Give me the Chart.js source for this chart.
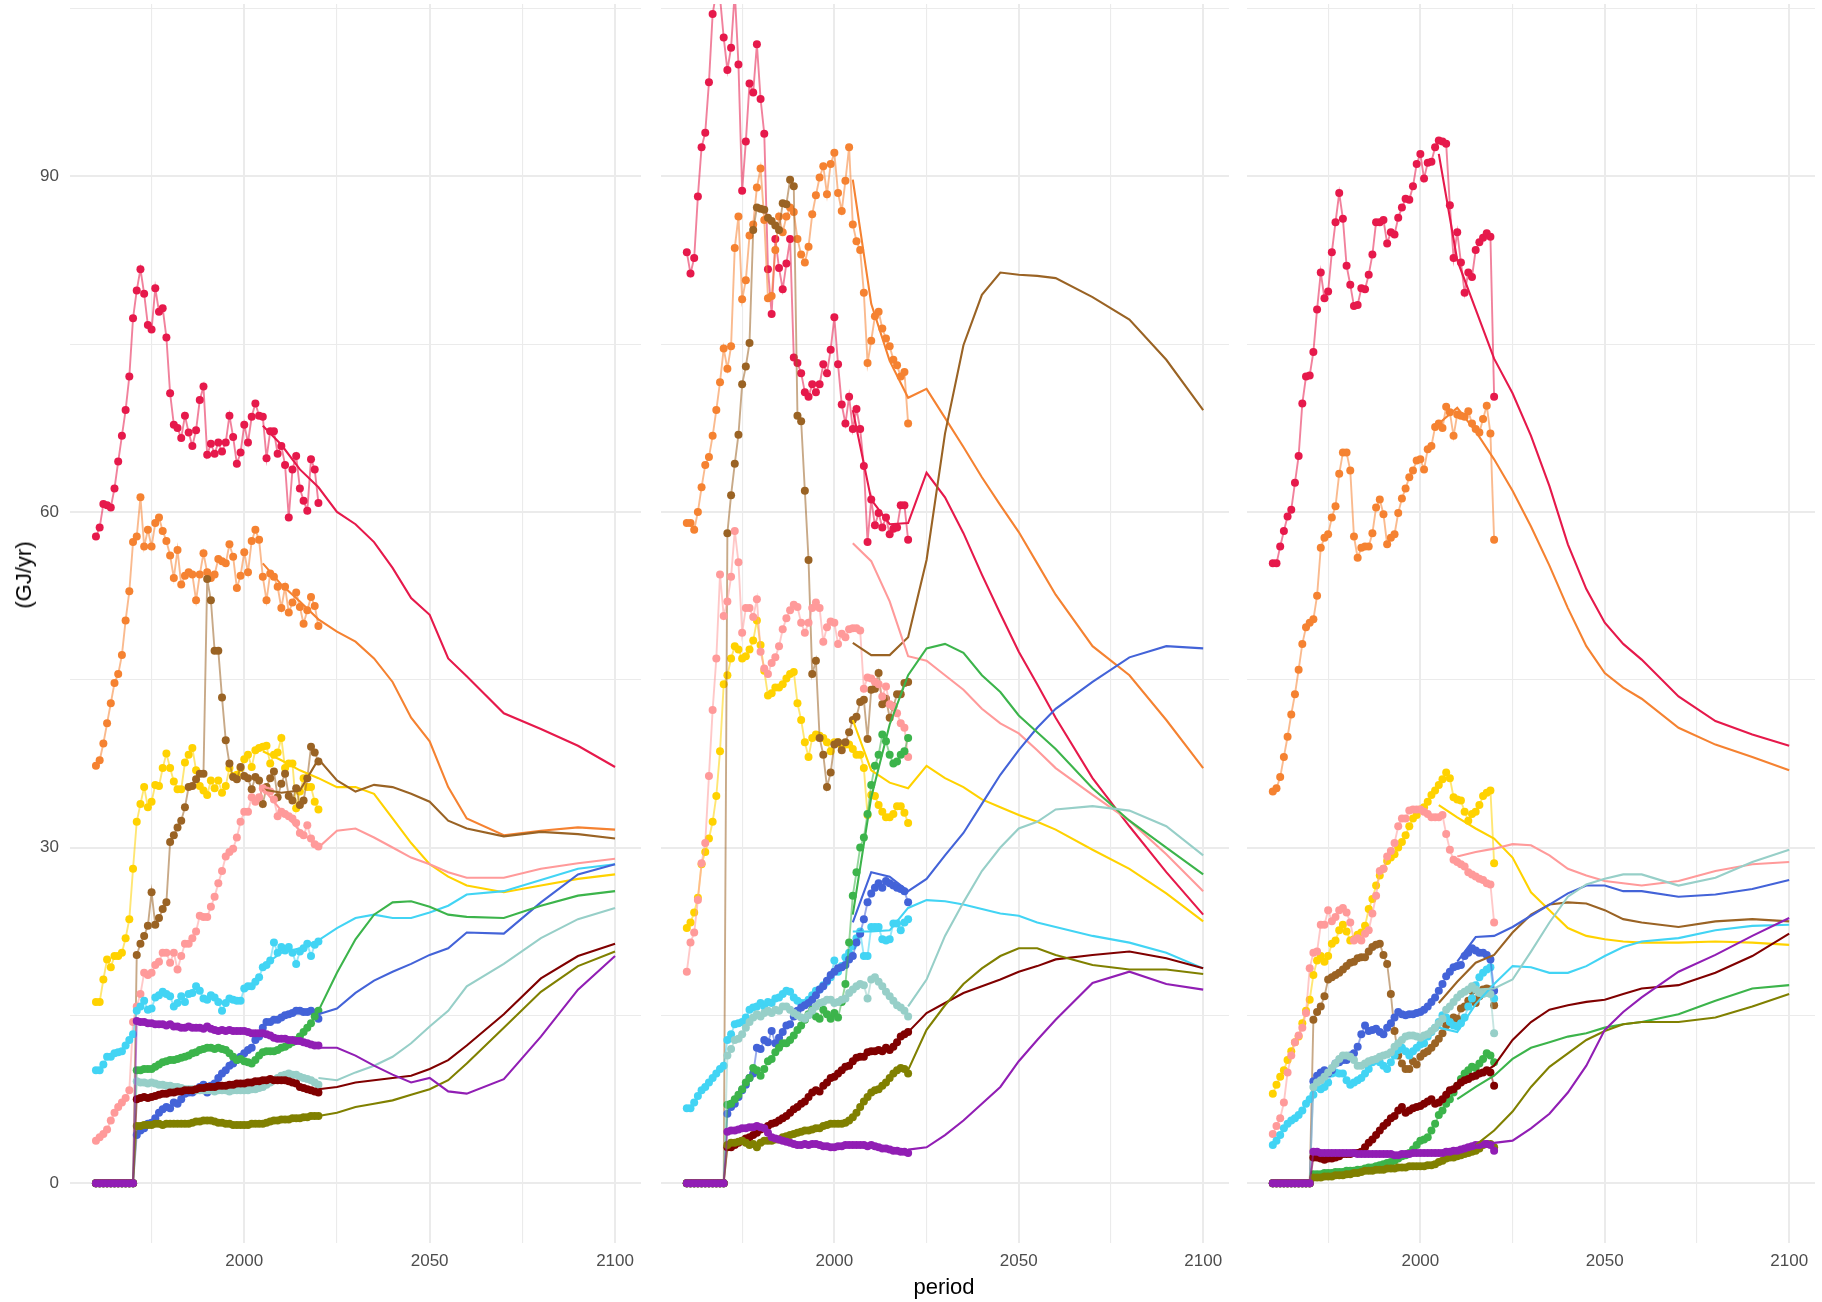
<!DOCTYPE html>
<html>
<head>
<meta charset="utf-8">
<script src="https://cdn.jsdelivr.net/npm/chart.js@4.4.1/dist/chart.umd.min.js"></script>
<style>
  body { margin: 0; background: #fff; }
  #wrap { position: relative; width: 1822px; height: 1302px; overflow: hidden; font-family: "Liberation Sans", Arial, sans-serif; }
  canvas { position: absolute; top: 0; }
  .title { position: absolute; font-size: 22px; color: #000; white-space: nowrap; line-height: 1; }
  #ytitle { left: 24px; top: 575px; transform: translate(-50%, -50%) rotate(-90deg); }
  #xtitle { left: 944px; top: 1287px; transform: translate(-50%, -50%); }
</style>
</head>
<body>
<div id="wrap">
  <canvas id="panel1" width="645" height="1302" style="left:0"></canvas>
  <canvas id="panel2" width="576" height="1302" style="left:657px"></canvas>
  <canvas id="panel3" width="576" height="1302" style="left:1243px"></canvas>
  <div class="title" id="ytitle">(GJ/yr)</div>
  <div class="title" id="xtitle">period</div>
</div>
<script>
// historic years and scenario years
const years = [1960, 1961, 1962, 1963, 1964, 1965, 1966, 1967, 1968, 1969,
  1970, 1971, 1972, 1973, 1974, 1975, 1976, 1977, 1978, 1979,
  1980, 1981, 1982, 1983, 1984, 1985, 1986, 1987, 1988, 1989,
  1990, 1991, 1992, 1993, 1994, 1995, 1996, 1997, 1998, 1999,
  2000, 2001, 2002, 2003, 2004, 2005, 2006, 2007, 2008, 2009,
  2010, 2011, 2012, 2013, 2014, 2015, 2016, 2017, 2018, 2019,
  2020];
const projYears = [2005, 2010, 2015, 2020, 2025, 2030, 2035, 2040, 2045, 2050, 2055, 2060, 2070, 2080, 2090, 2100];
const xTicks = [1975, 2000, 2025, 2050, 2075, 2100];
const yTicks = [0, 15, 30, 45, 60, 75, 90, 105];

const seriesOrder = ['red', 'orange', 'yellow', 'brown', 'pink', 'cyan', 'blue', 'green', 'teal', 'maroon', 'olive', 'purple'];
const seriesColors = {
  red: '#e6194b', orange: '#f58231', yellow: '#ffd200', brown: '#9a6324',
  pink: '#ff9a9a', cyan: '#42d4f4', blue: '#4363d8', green: '#3cb44b',
  teal: '#97cfc8', maroon: '#800000', olive: '#808000', purple: '#911eb4'
};

// ---------- panel 1 ----------
const p1RedHist = [57.8, 58.6, 60.7, 60.6, 60.4, 62.1, 64.5, 66.8, 69.1, 72.1,
  77.3, 79.8, 81.7, 79.5, 76.7, 76.3, 80.0, 77.9, 78.2, 75.6,
  70.6, 67.8, 67.5, 66.6, 68.6, 67.1, 65.9, 67.3, 70.0, 71.2,
  65.1, 66.1, 65.2, 66.2, 65.4, 66.2, 68.6, 66.7, 64.3, 65.3,
  67.8, 66.2, 68.5, 69.7, 68.6, 68.5, 64.8, 67.2, 67.2, 65.2,
  65.9, 64.2, 59.5, 63.8, 65.0, 62.1, 61.0, 60.1, 64.7, 63.8,
  60.8];
const p1RedProj = [67.7, 66.0, 63.8, 62.2, 60.0, 58.9, 57.3, 55.0, 52.3, 50.8, 46.9, 45.3, 42.0, 40.6, 39.1, 37.2];
const p1OrangeHist = [37.3, 37.8, 39.3, 41.1, 42.9, 44.7, 45.5, 47.2, 50.3, 52.9,
  57.3, 57.8, 61.3, 56.9, 58.4, 56.9, 59.0, 59.5, 58.3, 57.4,
  56.1, 54.1, 56.6, 53.5, 54.3, 54.6, 54.4, 52.1, 54.4, 56.3,
  54.6, 54.1, 54.4, 55.8, 55.6, 55.4, 57.1, 56.0, 53.2, 54.3,
  56.4, 54.6, 57.4, 58.4, 57.5, 54.2, 52.1, 54.5, 54.2, 53.3,
  51.4, 53.3, 51.0, 51.9, 52.8, 51.5, 50.0, 51.2, 52.4, 51.6,
  49.8];
const p1OrangeProj = [55.4, 53.5, 52.0, 50.4, 49.3, 48.4, 46.9, 44.8, 41.6, 39.5, 35.4, 32.6, 31.1, 31.5, 31.8, 31.6];
const p1YellowHist = [16.2, 16.2, 18.2, 20.0, 19.3, 20.3, 20.3, 20.6, 21.9, 23.6,
  28.1, 32.3, 33.9, 35.4, 33.6, 34.1, 35.6, 35.5, 37.1, 38.4,
  37.1, 35.9, 35.2, 35.2, 37.6, 38.3, 38.9, 36.9, 35.5, 35.1,
  34.7, 36.0, 35.3, 36.0, 34.9, 35.5, 37.1, 36.4, 36.5, 37.1,
  37.9, 38.3, 37.2, 38.7, 38.9, 39.0, 39.1, 37.5, 38.3, 38.5,
  39.8, 37.1, 37.5, 37.5, 33.5, 35.0, 36.2, 35.4, 35.4, 34.1,
  33.4];
const p1YellowProj = [38.6, 37.8, 36.9, 36.2, 35.4, 35.4, 34.8, 32.6, 30.4, 28.5, 27.4, 26.6, 26.0, 26.6, 27.2, 27.6];
const p1BrownHist = [0, 0, 0, 0, 0, 0, 0, 0, 0, 0,
  0, 20.4, 21.4, 22.1, 23.0, 26.0, 23.1, 23.7, 24.5, 25.1,
  30.5, 31.1, 31.8, 32.4, 33.6, 35.4, 35.5, 36.1, 36.6, 36.6,
  54.0, 52.1, 47.6, 47.6, 43.4, 39.6, 37.5, 36.3, 36.1, 37.2,
  36.4, 36.2, 35.2, 36.3, 36.0, 33.9, 35.4, 36.2, 36.8, 34.5,
  35.7, 36.6, 34.6, 34.2, 35.3, 33.8, 34.2, 36.2, 39.0, 38.5,
  37.7];
const p1BrownProj = [35.2, 34.9, 35.1, 37.9, 36.0, 35.0, 35.6, 35.4, 34.8, 34.1, 32.4, 31.7, 31.0, 31.4, 31.2, 30.8];
const p1PinkHist = [3.8, 4.1, 4.4, 4.8, 5.6, 6.3, 6.8, 7.2, 7.6, 8.3,
  14.4, 15.8, 16.9, 18.8, 18.6, 18.8, 19.5, 19.8, 20.6, 20.6,
  19.7, 20.6, 19.1, 20.3, 21.4, 21.4, 21.9, 22.5, 23.9, 23.8,
  23.8, 24.7, 25.6, 26.8, 27.9, 29.2, 29.6, 29.9, 30.9, 32.3,
  33.2, 33.2, 34.5, 34.1, 34.5, 35.3, 35.1, 35.0, 34.3, 32.8,
  33.2, 33.0, 32.8, 32.6, 32.2, 31.3, 31.1, 32.0, 30.8, 30.3,
  30.1];
const p1PinkProj = [35.3, 33.3, 31.5, 30.0, 31.5, 31.7, 30.9, 30.0, 29.1, 28.5, 27.8, 27.3, 27.3, 28.1, 28.6, 29.0];
const p1CyanHist = [10.1, 10.1, 10.6, 11.3, 11.3, 11.6, 11.7, 11.8, 12.3, 12.8,
  13.3, 15.4, 15.8, 16.3, 15.5, 15.6, 16.6, 16.8, 17.1, 16.9,
  16.7, 15.8, 16.1, 16.7, 16.2, 16.9, 17.0, 17.6, 17.2, 16.5,
  16.4, 16.8, 16.6, 16.2, 15.4, 16.1, 16.5, 16.4, 16.3, 16.3,
  17.4, 17.6, 17.6, 18.0, 18.4, 19.3, 19.5, 19.9, 21.5, 20.6,
  21.1, 20.8, 21.1, 20.6, 19.6, 20.7, 21.0, 21.4, 20.3, 21.3,
  21.6];
const p1CyanProj = [19.4, 20.6, 21.0, 21.7, 22.8, 23.7, 24.0, 23.7, 23.7, 24.2, 24.8, 25.8, 26.1, 27.1, 28.1, 28.5];
const p1BlueHist = [0, 0, 0, 0, 0, 0, 0, 0, 0, 0,
  0, 4.3, 4.7, 4.9, 5.3, 5.4, 5.8, 6.3, 6.6, 6.8,
  6.7, 7.2, 7.1, 7.5, 8.0, 8.1, 8.1, 8.3, 8.6, 8.8,
  8.1, 8.7, 8.9, 9.4, 9.8, 10.1, 10.5, 10.7, 11.0, 11.3,
  11.6, 11.9, 12.1, 12.8, 13.1, 13.9, 14.4, 14.4, 14.6, 14.6,
  14.8, 15.0, 15.1, 15.2, 15.4, 15.4, 15.3, 15.3, 15.4, 15.2,
  14.7];
const p1BlueProj = [null, null, null, 15.1, 15.6, 17.0, 18.1, 18.9, 19.6, 20.4, 21.0, 22.4, 22.3, 25.1, 27.6, 28.5];
const p1GreenHist = [0, 0, 0, 0, 0, 0, 0, 0, 0, 0,
  0, 10.1, 10.1, 10.2, 10.2, 10.2, 10.4, 10.6, 10.8, 10.9,
  11.0, 11.0, 11.1, 11.2, 11.3, 11.4, 11.6, 11.7, 11.9, 12.0,
  12.1, 12.1, 12.0, 12.1, 12.0, 11.9, 11.6, 11.3, 11.0, 11.1,
  10.9, 10.8, 10.7, 11.0, 11.4, 11.7, 11.8, 11.8, 11.8, 11.9,
  12.1, 12.2, 12.4, 12.6, 12.8, 13.1, 13.5, 13.9, 14.3, 14.9,
  15.4];
const p1GreenProj = [null, null, null, 15.4, 18.8, 21.8, 24.0, 25.1, 25.2, 24.7, 24.0, 23.8, 23.7, 24.8, 25.7, 26.1];
const p1TealHist = [0, 0, 0, 0, 0, 0, 0, 0, 0, 0,
  0, 9.1, 9.0, 9.0, 8.9, 9.0, 8.9, 8.8, 8.8, 8.7,
  8.7, 8.6, 8.6, 8.5, 8.4, 8.4, 8.4, 8.3, 8.3, 8.3,
  8.3, 8.3, 8.2, 8.3, 8.3, 8.3, 8.2, 8.3, 8.3, 8.3,
  8.3, 8.3, 8.4, 8.4, 8.5, 8.6, 8.8, 9.0, 9.2, 9.4,
  9.6, 9.7, 9.8, 9.7, 9.7, 9.5, 9.4, 9.3, 9.2, 9.0,
  8.8];
const p1TealProj = [null, null, null, 9.4, 9.2, 9.9, 10.5, 11.3, 12.5, 14.0, 15.4, 17.6, 19.6, 21.9, 23.6, 24.6];
const p1MaroonHist = [0, 0, 0, 0, 0, 0, 0, 0, 0, 0,
  0, 7.5, 7.6, 7.7, 7.6, 7.7, 7.8, 7.9, 8.0, 8.0,
  8.1, 8.1, 8.2, 8.2, 8.3, 8.3, 8.3, 8.4, 8.5, 8.5,
  8.6, 8.6, 8.6, 8.7, 8.7, 8.7, 8.8, 8.8, 8.9, 8.9,
  8.9, 9.0, 9.0, 9.1, 9.1, 9.2, 9.2, 9.3, 9.2, 9.2,
  9.2, 9.2, 9.1, 9.0, 8.9, 8.6, 8.5, 8.4, 8.3, 8.2,
  8.1];
const p1MaroonProj = [null, null, null, 8.4, 8.6, 9.0, 9.2, 9.4, 9.6, 10.2, 11.0, 12.3, 15.1, 18.3, 20.3, 21.4];
const p1OliveHist = [0, 0, 0, 0, 0, 0, 0, 0, 0, 0,
  0, 5.1, 5.1, 5.2, 5.2, 5.2, 5.3, 5.3, 5.2, 5.3,
  5.3, 5.3, 5.3, 5.3, 5.3, 5.3, 5.4, 5.5, 5.5, 5.6,
  5.6, 5.6, 5.5, 5.4, 5.4, 5.3, 5.3, 5.2, 5.2, 5.2,
  5.2, 5.2, 5.3, 5.3, 5.3, 5.3, 5.4, 5.5, 5.6, 5.6,
  5.7, 5.7, 5.7, 5.8, 5.8, 5.8, 5.9, 5.9, 6.0, 6.0,
  6.0];
const p1OliveProj = [null, null, null, 6.0, 6.3, 6.8, 7.1, 7.4, 7.9, 8.4, 9.2, 10.7, 13.9, 17.1, 19.4, 20.7];
const p1PurpleHist = [0, 0, 0, 0, 0, 0, 0, 0, 0, 0,
  0, 14.5, 14.4, 14.4, 14.3, 14.3, 14.2, 14.2, 14.2, 14.1,
  14.2, 14.0, 14.0, 13.9, 13.9, 14.0, 13.9, 13.9, 13.9, 13.8,
  14.0, 13.8, 13.7, 13.6, 13.7, 13.6, 13.7, 13.6, 13.6, 13.6,
  13.6, 13.5, 13.4, 13.4, 13.4, 13.4, 13.3, 13.2, 13.0, 12.9,
  12.9, 12.9, 12.8, 12.8, 12.7, 12.7, 12.6, 12.5, 12.4, 12.3,
  12.3];
const p1PurpleProj = [null, null, null, 12.1, 12.1, 11.4, 10.5, 9.7, 9.0, 9.4, 8.2, 8.0, 9.3, 13.1, 17.3, 20.3];

// ---------- panel 2 ----------
const p2RedHist = [83.2, 81.3, 82.7, 88.2, 92.6, 93.9, 98.4, 104.5, 106.5, 106.0,
  102.4, 99.5, 101.5, 106.5, 100.0, 88.7, 93.1, 98.3, 97.5, 101.8,
  96.9, 93.8, 81.7, 77.7, 84.4, 81.8, 79.9, 82.2, 84.4, 73.8,
  73.3, 72.4, 70.7, 70.3, 71.4, 70.7, 71.4, 73.2, 72.4, 74.5,
  77.4, 73.2, 69.6, 67.9, 70.3, 67.4, 69.2, 67.4, 64.1, 57.3,
  61.1, 58.8, 59.9, 58.6, 59.5, 58.0, 58.5, 58.6, 60.6, 60.6,
  57.5];
const p2RedProj = [69.1, 61.1, 58.9, 59.0, 63.5, 61.3, 58.1, 54.4, 50.9, 47.5, 44.6, 41.6, 36.2, 31.9, 27.8, 24.0];
const p2OrangeHist = [59.0, 59.0, 58.4, 60.0, 62.2, 64.2, 64.9, 66.8, 69.1, 71.6,
  74.6, 72.8, 74.8, 83.6, 86.4, 79.0, 80.7, 84.7, 85.7, 89.0,
  90.7, 86.1, 79.1, 79.3, 83.4, 86.4, 85.0, 86.4, 87.2, 86.8,
  84.4, 83.0, 82.3, 83.7, 86.6, 88.3, 89.9, 90.9, 88.4, 91.1,
  92.1, 88.5, 86.9, 89.6, 92.6, 85.7, 84.2, 83.4, 79.6, 73.3,
  75.3, 77.5, 77.9, 76.4, 75.5, 74.8, 73.6, 73.1, 72.1, 72.5,
  67.9];
const p2OrangeProj = [89.7, 78.6, 73.5, 70.2, 71.0, 68.4, 65.8, 63.1, 60.6, 58.2, 55.4, 52.6, 48.0, 45.4, 41.4, 37.1];
const p2YellowHist = [22.8, 23.3, 24.2, 25.5, 28.5, 29.6, 30.8, 32.3, 34.6, 38.6,
  44.6, 45.4, 46.9, 48.0, 47.7, 46.9, 47.1, 47.7, 48.5, 50.3,
  48.1, 45.8, 43.6, 43.8, 44.3, 44.3, 44.6, 45.1, 45.5, 45.7,
  42.9, 41.4, 39.4, 38.1, 39.8, 40.1, 40.0, 39.8, 39.4, 38.6,
  39.4, 39.4, 39.1, 39.2, 39.2, 38.8, 38.3, 38.3, 37.1, 32.9,
  34.7, 34.6, 33.8, 33.2, 32.7, 32.7, 33.0, 33.7, 33.7, 33.1,
  32.2];
const p2YellowProj = [41.4, 36.9, 35.8, 35.3, 37.3, 36.2, 35.4, 34.3, 33.6, 32.9, 32.3, 31.6, 29.8, 28.1, 25.9, 23.4];
const p2BrownHist = [0, 0, 0, 0, 0, 0, 0, 0, 0, 0,
  0, 58.1, 61.5, 64.3, 66.9, 71.4, 73.0, 75.1, 85.2, 87.2,
  87.1, 87.0, 86.3, 86.0, 85.6, 85.2, 87.6, 87.5, 89.7, 89.1,
  68.6, 68.1, 61.9, 55.7, 45.5, 46.7, 39.8, 38.3, 35.4, 36.7,
  39.2, 39.4, 38.7, 39.4, 40.3, 41.4, 41.7, 43.0, 43.2, 39.7,
  44.1, 44.2, 45.6, 42.8, 43.3, 41.6, 42.6, 43.7, 43.7, 44.7,
  44.8];
const p2BrownProj = [48.3, 47.2, 47.2, 48.8, 55.7, 67.0, 74.9, 79.4, 81.4, 81.2, 81.1, 80.9, 79.2, 77.2, 73.6, 69.1];
const p2PinkHist = [18.9, 21.5, 22.4, 25.3, 28.6, 30.4, 36.4, 42.3, 46.9, 54.4,
  50.7, 52.0, 54.2, 58.3, 55.5, 49.2, 51.4, 51.4, 50.6, 52.2,
  47.5, 46.0, 45.5, 46.5, 47.0, 48.0, 49.5, 50.5, 51.2, 51.7,
  51.5, 50.1, 49.2, 50.1, 51.4, 51.9, 51.4, 48.4, 49.7, 50.2,
  50.1, 48.2, 49.1, 48.8, 49.5, 49.6, 49.6, 49.4, 44.2, 45.2,
  45.1, 44.8, 44.6, 43.5, 44.4, 42.8, 42.6, 42.0, 41.1, 40.7,
  38.1];
const p2PinkProj = [57.2, 55.6, 52.0, 47.1, 46.7, 45.4, 44.1, 42.4, 41.1, 40.2, 38.7, 37.1, 34.7, 32.4, 29.4, 26.1];
const p2CyanHist = [6.7, 6.7, 7.2, 7.8, 8.3, 8.6, 9.0, 9.4, 9.8, 10.2,
  10.5, 12.8, 13.3, 14.2, 14.3, 14.4, 14.8, 15.5, 15.7, 15.8,
  16.1, 15.8, 16.2, 16.1, 16.5, 16.6, 16.9, 17.2, 17.1, 16.6,
  16.3, 16.1, 16.1, 16.4, 16.8, 17.2, 17.3, 17.7, 18.0, 18.4,
  19.9, 18.9, 19.4, 20.2, 20.6, 21.2, 21.9, 22.5, 20.3, 20.3,
  22.9, 22.9, 22.9, 21.8, 21.7, 21.8, 23.2, 23.2, 22.6, 23.3,
  23.6];
const p2CyanProj = [22.5, 22.5, 22.6, 24.6, 25.3, 25.2, 24.9, 24.5, 24.1, 23.9, 23.3, 22.9, 22.1, 21.5, 20.6, 19.2];
const p2BlueHist = [0, 0, 0, 0, 0, 0, 0, 0, 0, 0,
  0, 6.2, 6.8, 7.1, 7.7, 8.3, 8.8, 9.4, 9.8, 12.1,
  12.0, 12.8, 12.6, 13.6, 12.5, 13.0, 13.5, 14.1, 14.2, 14.9,
  15.4, 15.7, 15.9, 16.1, 16.4, 16.8, 17.3, 17.6, 18.1, 18.6,
  18.9, 19.2, 19.3, 19.5, 20.0, 20.3, 21.5, 22.3, 23.6, 25.1,
  25.9, 26.4, 26.8, 26.4, 27.0, 26.8, 26.6, 26.4, 26.3, 26.1,
  25.1];
const p2BlueProj = [23.3, 27.8, 27.4, 26.1, 27.2, 29.3, 31.3, 33.9, 36.5, 38.7, 40.7, 42.4, 44.8, 47.0, 48.0, 47.8];
const p2GreenHist = [0, 0, 0, 0, 0, 0, 0, 0, 0, 0,
  0, 7.0, 7.1, 7.5, 7.9, 8.4, 9.0, 9.4, 10.3, 10.1,
  9.6, 10.2, 10.9, 11.1, 11.7, 12.1, 12.5, 12.5, 12.8, 13.2,
  13.7, 14.1, 14.6, 15.1, 15.5, 14.9, 14.7, 15.5, 15.1, 14.7,
  15.2, 14.8, 16.2, 17.8, 21.5, 25.7, 27.8, 30.0, 30.9, 33.0,
  35.6, 37.3, 38.3, 40.1, 39.5, 38.3, 37.5, 37.7, 38.3, 38.6,
  39.8];
const p2GreenProj = [24.0, 34.5, 41.0, 45.4, 47.8, 48.2, 47.4, 45.4, 43.9, 41.8, 40.3, 38.8, 35.3, 32.4, 30.0, 27.6];
const p2TealHist = [0, 0, 0, 0, 0, 0, 0, 0, 0, 0,
  0, 11.4, 12.0, 12.8, 12.9, 13.3, 13.9, 14.4, 14.8, 15.1,
  14.9, 15.2, 15.4, 15.2, 15.5, 15.4, 15.8, 15.8, 15.5, 15.2,
  15.0, 14.8, 14.7, 15.0, 15.4, 15.8, 16.1, 16.2, 16.4, 16.4,
  16.1, 16.2, 16.4, 16.5, 17.0, 17.3, 17.6, 17.8, 17.7, 16.5,
  18.2, 18.4, 18.0, 17.6, 17.1, 16.7, 16.3, 15.9, 15.7, 15.4,
  14.9];
const p2TealProj = [null, null, null, 15.8, 18.2, 22.1, 25.1, 27.9, 30.0, 31.7, 32.3, 33.4, 33.7, 33.3, 31.9, 29.3];
const p2MaroonHist = [0, 0, 0, 0, 0, 0, 0, 0, 0, 0,
  0, 3.2, 3.2, 3.4, 3.6, 3.8, 4.0, 4.1, 4.3, 4.5,
  4.8, 4.9, 5.1, 5.3, 5.4, 5.6, 5.8, 6.0, 6.3, 6.6,
  6.8, 7.1, 7.3, 7.7, 8.1, 8.3, 8.2, 8.7, 9.0, 9.4,
  9.5, 9.8, 10.1, 10.4, 10.5, 10.9, 11.2, 11.3, 11.3, 11.7,
  11.8, 11.8, 11.9, 11.8, 12.1, 11.9, 12.2, 12.6, 13.1, 13.3,
  13.5];
const p2MaroonProj = [null, null, null, 13.5, 15.2, 16.1, 17.0, 17.6, 18.2, 18.9, 19.4, 20.0, 20.4, 20.7, 20.1, 19.2];
const p2OliveHist = [0, 0, 0, 0, 0, 0, 0, 0, 0, 0,
  0, 3.4, 3.6, 3.6, 3.7, 3.8, 3.6, 3.4, 3.5, 3.2,
  3.6, 3.8, 3.8, 3.8, 3.9, 3.9, 4.1, 4.2, 4.3, 4.4,
  4.5, 4.6, 4.7, 4.7, 4.8, 4.9, 4.9, 5.1, 5.2, 5.3,
  5.3, 5.3, 5.3, 5.4, 5.6, 5.9, 6.3, 6.8, 7.3, 7.7,
  8.1, 8.3, 8.4, 8.7, 9.0, 9.4, 9.8, 10.1, 10.3, 10.2,
  9.8];
const p2OliveProj = [null, null, null, 10.1, 13.7, 15.9, 17.8, 19.2, 20.3, 21.0, 21.0, 20.4, 19.5, 19.1, 19.1, 18.7];
const p2PurpleHist = [0, 0, 0, 0, 0, 0, 0, 0, 0, 0,
  0, 4.6, 4.7, 4.7, 4.8, 4.9, 4.9, 5.0, 5.0, 5.1,
  5.0, 4.9, 4.5, 4.1, 4.0, 3.9, 3.8, 3.7, 3.6, 3.5,
  3.4, 3.4, 3.5, 3.4, 3.5, 3.5, 3.4, 3.3, 3.3, 3.2,
  3.2, 3.3, 3.3, 3.4, 3.4, 3.4, 3.4, 3.4, 3.4, 3.3,
  3.4, 3.3, 3.2, 3.1, 3.1, 3.0, 2.9, 2.9, 2.8, 2.8,
  2.7];
const p2PurpleProj = [null, null, null, 3.0, 3.2, 4.3, 5.6, 7.1, 8.6, 10.9, 12.8, 14.6, 17.9, 18.9, 17.8, 17.3];

// ---------- panel 3 ----------
const p3RedHist = [55.4, 55.4, 56.9, 58.3, 59.6, 60.2, 62.6, 65.0, 69.7, 72.1,
  72.2, 74.3, 78.1, 81.4, 79.1, 79.7, 83.2, 85.9, 88.5, 86.2,
  82.0, 80.3, 78.4, 78.5, 80.0, 79.9, 81.2, 83.0, 85.9, 85.9,
  86.1, 84.0, 85.0, 84.8, 86.3, 87.2, 88.0, 87.9, 89.1, 91.1,
  92.0, 89.8, 91.2, 91.3, 92.6, 93.2, 93.1, 92.9, 87.4, 82.7,
  85.0, 82.3, 79.6, 81.4, 81.0, 83.4, 84.1, 84.5, 84.9, 84.6,
  70.3];
const p3RedProj = [92.0, 82.5, 78.1, 73.7, 70.6, 66.8, 62.3, 57.1, 53.1, 50.1, 48.2, 46.8, 43.5, 41.3, 40.1, 39.1];
const p3OrangeHist = [35.0, 35.3, 36.3, 38.1, 39.9, 41.9, 43.7, 45.9, 48.2, 49.7,
  50.1, 50.4, 52.5, 56.8, 57.7, 58.0, 59.5, 60.5, 63.4, 65.3,
  65.3, 63.7, 57.8, 55.9, 56.8, 56.9, 56.9, 58.1, 60.4, 61.1,
  59.8, 57.1, 57.7, 58.0, 59.9, 61.2, 62.1, 63.1, 63.7, 64.6,
  64.7, 63.8, 65.6, 65.9, 67.6, 67.9, 67.5, 69.4, 68.9, 66.8,
  68.7, 68.6, 68.5, 69.0, 67.9, 67.4, 67.1, 68.3, 69.5, 67.0,
  57.5];
const p3OrangeProj = [67.9, 69.3, 67.2, 64.7, 61.9, 58.7, 55.2, 51.4, 48.0, 45.6, 44.3, 43.3, 40.7, 39.2, 38.1, 36.9];
const p3YellowHist = [8.0, 8.8, 9.5, 10.1, 11.0, 11.8, 12.6, 13.1, 14.3, 15.4,
  16.4, 18.6, 19.9, 20.3, 19.8, 20.3, 21.4, 21.7, 22.6, 23.1,
  22.5, 21.7, 21.8, 22.2, 22.4, 23.0, 24.5, 25.4, 26.6, 27.5,
  28.1, 28.8, 29.1, 29.4, 30.0, 30.5, 31.1, 31.9, 32.6, 32.9,
  33.4, 33.6, 34.1, 34.7, 35.1, 35.6, 36.1, 36.7, 36.2, 34.5,
  34.3, 34.2, 33.2, 32.4, 33.0, 33.2, 33.8, 34.6, 34.9, 35.1,
  28.6];
const p3YellowProj = [33.8, 32.7, 31.7, 30.8, 29.1, 26.0, 24.4, 22.8, 22.1, 21.8, 21.6, 21.5, 21.5, 21.6, 21.5, 21.3];
const p3BrownHist = [0, 0, 0, 0, 0, 0, 0, 0, 0, 0,
  0, 14.6, 15.3, 15.8, 16.7, 18.2, 18.4, 18.6, 18.8, 19.1,
  19.4, 19.7, 19.8, 20.1, 20.2, 20.2, 20.7, 21.1, 21.3, 21.4,
  20.4, 19.6, 16.9, 13.6, 11.4, 10.7, 10.2, 10.2, 10.9, 10.6,
  11.3, 11.6, 11.8, 12.1, 12.5, 12.9, 13.4, 14.1, 14.3, 14.8,
  14.7, 15.6, 15.8, 16.3, 17.2, 16.1, 16.7, 17.3, 17.4, 17.3,
  15.9];
const p3BrownProj = [16.1, 18.0, 19.7, 20.4, 22.4, 24.0, 24.9, 25.1, 25.0, 24.4, 23.6, 23.3, 22.9, 23.4, 23.6, 23.4];
const p3PinkHist = [4.4, 5.1, 5.8, 7.2, 9.9, 11.4, 12.6, 13.2, 13.9, 15.2,
  19.2, 20.6, 20.7, 23.1, 23.1, 24.4, 23.4, 23.8, 24.4, 24.6,
  24.2, 23.3, 21.7, 21.9, 21.7, 22.3, 22.6, 24.1, 25.7, 27.9,
  28.1, 29.2, 29.7, 30.4, 31.9, 32.6, 32.6, 33.3, 33.4, 33.4,
  33.4, 33.2, 33.0, 32.7, 32.7, 32.7, 32.9, 31.2, 29.8, 28.9,
  28.7, 28.5, 28.3, 27.8, 27.6, 27.4, 27.2, 27.1, 26.8, 26.7,
  23.3];
const p3PinkProj = [null, 29.2, 29.6, 29.9, 30.3, 30.2, 29.3, 28.1, 27.5, 27.0, 26.8, 26.6, 27.0, 27.9, 28.5, 28.7];
const p3CyanHist = [3.4, 3.8, 4.3, 4.9, 5.3, 5.6, 5.8, 6.1, 6.5, 7.1,
  7.5, 7.9, 8.6, 8.4, 8.6, 9.0, 9.8, 9.9, 9.8, 9.8,
  9.2, 8.8, 9.0, 9.2, 9.4, 9.8, 10.2, 10.8, 11.0, 10.8,
  10.5, 10.2, 10.8, 11.4, 11.9, 12.1, 11.8, 11.4, 11.8, 12.1,
  12.4, 12.5, 13.1, 13.5, 13.9, 14.4, 15.0, 14.8, 14.4, 14.1,
  14.0, 14.3, 14.8, 15.8, 16.5, 17.7, 18.4, 18.8, 19.1, 19.3,
  16.5];
const p3CyanProj = [13.9, 13.5, 16.0, 17.8, 19.4, 19.3, 18.8, 18.8, 19.4, 20.3, 21.1, 21.6, 21.9, 22.6, 23.0, 23.1];
const p3BlueHist = [0, 0, 0, 0, 0, 0, 0, 0, 0, 0,
  0, 9.1, 9.6, 9.9, 10.1, 9.8, 10.1, 10.7, 10.8, 11.0,
  11.0, 11.4, 11.6, 12.2, 13.3, 14.1, 13.6, 13.7, 13.8, 13.5,
  13.3, 13.9, 14.3, 14.8, 15.3, 15.1, 15.0, 15.1, 15.1, 15.2,
  15.3, 15.5, 15.8, 16.2, 16.6, 17.2, 17.8, 18.5, 18.9, 19.3,
  19.4, 19.5, 20.3, 20.6, 21.0, 20.8, 20.6, 20.6, 20.4, 20.0,
  17.2];
const p3BlueProj = [null, 19.8, 22.0, 22.1, 22.9, 23.9, 24.9, 25.9, 26.6, 26.6, 26.1, 26.1, 25.6, 25.8, 26.3, 27.1];
const p3GreenHist = [0, 0, 0, 0, 0, 0, 0, 0, 0, 0,
  0, 0.8, 0.8, 0.8, 0.9, 0.9, 0.9, 1.0, 1.0, 1.0,
  1.1, 1.1, 1.1, 1.2, 1.2, 1.3, 1.4, 1.4, 1.5, 1.6,
  1.7, 1.8, 1.9, 2.0, 2.2, 2.4, 2.5, 2.7, 3.0, 3.4,
  3.8, 3.9, 4.1, 4.7, 5.3, 6.1, 6.5, 7.1, 7.5, 8.1,
  8.7, 9.3, 9.8, 10.1, 10.4, 10.3, 10.7, 11.1, 11.6, 11.4,
  10.8];
const p3GreenProj = [null, 7.5, 8.6, 9.6, 11.1, 12.1, 12.6, 13.1, 13.4, 13.9, 14.2, 14.4, 15.1, 16.3, 17.4, 17.7];
const p3TealHist = [0, 0, 0, 0, 0, 0, 0, 0, 0, 0,
  0, 8.6, 9.0, 9.2, 9.5, 9.9, 10.3, 10.7, 11.1, 11.4,
  11.4, 11.3, 11.0, 10.5, 10.5, 10.7, 10.9, 11.0, 11.1, 11.3,
  11.4, 11.5, 11.7, 12.2, 12.5, 12.8, 13.1, 13.2, 13.2, 13.1,
  13.0, 13.2, 13.3, 13.6, 13.9, 14.3, 14.7, 15.5, 15.8, 16.2,
  16.6, 16.9, 17.1, 17.3, 17.6, 17.3, 17.0, 16.9, 17.0, 16.9,
  13.4];
const p3TealProj = [null, null, 17.3, 17.4, 18.2, 20.7, 23.3, 25.6, 26.7, 27.2, 27.6, 27.6, 26.6, 27.3, 28.7, 29.8];
const p3MaroonHist = [0, 0, 0, 0, 0, 0, 0, 0, 0, 0,
  0, 2.3, 2.3, 2.2, 2.1, 2.2, 2.2, 2.3, 2.4, 2.6,
  2.6, 2.6, 2.7, 2.7, 2.8, 3.2, 3.6, 3.9, 4.3, 4.7,
  5.1, 5.4, 5.8, 6.0, 6.5, 6.8, 6.3, 6.5, 6.7, 6.8,
  6.9, 7.1, 7.3, 7.5, 7.1, 7.2, 7.5, 7.9, 8.3, 8.4,
  8.7, 9.0, 9.2, 9.3, 9.5, 9.6, 9.8, 9.9, 10.1, 9.9,
  8.7];
const p3MaroonProj = [null, null, 9.5, 10.5, 12.8, 14.4, 15.5, 15.9, 16.2, 16.4, 16.9, 17.4, 17.7, 18.8, 20.3, 22.3];
const p3OliveHist = [0, 0, 0, 0, 0, 0, 0, 0, 0, 0,
  0, 0.5, 0.5, 0.5, 0.6, 0.6, 0.6, 0.7, 0.7, 0.7,
  0.8, 0.8, 0.9, 0.9, 1.0, 1.1, 1.1, 1.1, 1.2, 1.2,
  1.2, 1.3, 1.3, 1.3, 1.4, 1.4, 1.4, 1.5, 1.5, 1.5,
  1.5, 1.5, 1.6, 1.6, 1.7, 1.9, 2.0, 2.2, 2.3, 2.3,
  2.4, 2.5, 2.6, 2.7, 2.8, 2.9, 3.1, 3.4, 3.5, 3.5,
  3.2];
const p3OliveProj = [null, null, 3.4, 4.7, 6.4, 8.6, 10.4, 11.6, 12.8, 13.6, 14.2, 14.4, 14.4, 14.8, 15.8, 16.9];
const p3PurpleHist = [0, 0, 0, 0, 0, 0, 0, 0, 0, 0,
  0, 2.8, 2.8, 2.7, 2.7, 2.7, 2.7, 2.7, 2.7, 2.7,
  2.7, 2.7, 2.7, 2.6, 2.6, 2.6, 2.6, 2.6, 2.6, 2.6,
  2.6, 2.6, 2.6, 2.5, 2.5, 2.6, 2.6, 2.6, 2.7, 2.7,
  2.7, 2.7, 2.7, 2.7, 2.7, 2.7, 2.7, 2.8, 2.8, 2.9,
  2.9, 3.0, 3.1, 3.2, 3.3, 3.4, 3.4, 3.5, 3.5, 3.4,
  2.9];
const p3PurpleProj = [null, null, 3.4, 3.6, 3.8, 4.9, 6.2, 8.1, 10.5, 13.7, 15.3, 16.6, 18.9, 20.4, 22.1, 23.7];

const panel1 = {
  red: [p1RedHist, p1RedProj], orange: [p1OrangeHist, p1OrangeProj], yellow: [p1YellowHist, p1YellowProj],
  brown: [p1BrownHist, p1BrownProj], pink: [p1PinkHist, p1PinkProj], cyan: [p1CyanHist, p1CyanProj],
  blue: [p1BlueHist, p1BlueProj], green: [p1GreenHist, p1GreenProj], teal: [p1TealHist, p1TealProj],
  maroon: [p1MaroonHist, p1MaroonProj], olive: [p1OliveHist, p1OliveProj], purple: [p1PurpleHist, p1PurpleProj]
};
const panel2 = {
  red: [p2RedHist, p2RedProj], orange: [p2OrangeHist, p2OrangeProj], yellow: [p2YellowHist, p2YellowProj],
  brown: [p2BrownHist, p2BrownProj], pink: [p2PinkHist, p2PinkProj], cyan: [p2CyanHist, p2CyanProj],
  blue: [p2BlueHist, p2BlueProj], green: [p2GreenHist, p2GreenProj], teal: [p2TealHist, p2TealProj],
  maroon: [p2MaroonHist, p2MaroonProj], olive: [p2OliveHist, p2OliveProj], purple: [p2PurpleHist, p2PurpleProj]
};
const panel3 = {
  red: [p3RedHist, p3RedProj], orange: [p3OrangeHist, p3OrangeProj], yellow: [p3YellowHist, p3YellowProj],
  brown: [p3BrownHist, p3BrownProj], pink: [p3PinkHist, p3PinkProj], cyan: [p3CyanHist, p3CyanProj],
  blue: [p3BlueHist, p3BlueProj], green: [p3GreenHist, p3GreenProj], teal: [p3TealHist, p3TealProj],
  maroon: [p3MaroonHist, p3MaroonProj], olive: [p3OliveHist, p3OliveProj], purple: [p3PurpleHist, p3PurpleProj]
};

function rgba(hex, a) {
  const n = parseInt(hex.slice(1), 16);
  return `rgba(${(n >> 16) & 255}, ${(n >> 8) & 255}, ${n & 255}, ${a})`;
}

function buildDatasets(panel) {
  const hist = [];
  const proj = [];
  seriesOrder.forEach(name => {
    const [h, p] = panel[name];
    const c = seriesColors[name];
    hist.push({
      data: years.map((x, i) => ({ x: x, y: h[i] })),
      showLine: true,
      borderColor: rgba(c, 0.55),
      borderWidth: 1.9,
      pointRadius: 4,
      pointBackgroundColor: c,
      pointBorderWidth: 0,
      pointHoverRadius: 0
    });
    proj.push({
      data: projYears.map((x, i) => ({ x: x, y: p[i] })).filter(d => d.y !== null),
      showLine: true,
      borderColor: c,
      borderWidth: 2.1,
      pointRadius: 0,
      pointHoverRadius: 0
    });
  });
  // Chart.js draws the first dataset on top
  return proj.reverse().concat(hist.reverse());
}

const tickFont = { family: '"Liberation Sans", Arial, sans-serif', size: 17 };

function makeChart(id, panel, showY) {
  return new Chart(document.getElementById(id), {
    type: 'scatter',
    data: { datasets: buildDatasets(panel) },
    options: {
      responsive: false,
      animation: false,
      devicePixelRatio: 1,
      events: [],
      layout: { padding: 0 },
      plugins: { legend: { display: false }, tooltip: { enabled: false } },
      scales: {
        x: {
          type: 'linear',
          min: 1953,
          max: 2107,
          afterBuildTicks: s => { s.ticks = xTicks.map(v => ({ value: v })); },
          afterFit: s => { s.height = 59; s.paddingLeft = 0; s.paddingRight = 0; },
          border: { display: false },
          grid: {
            drawTicks: false,
            color: '#ebebeb',
            lineWidth: ctx => (ctx.tick && ctx.tick.value % 50 === 0) ? 2 : 1.1
          },
          ticks: {
            autoSkip: false,
            maxRotation: 0,
            padding: 8,
            color: '#4d4d4d',
            font: tickFont,
            callback: v => (v % 50 === 0 ? String(v) : '')
          }
        },
        y: {
          type: 'linear',
          min: -5.35,
          max: 105.4,
          afterBuildTicks: s => { s.ticks = yTicks.map(v => ({ value: v })); },
          afterFit: s => { s.width = showY ? 70 : 0; s.paddingTop = 0; s.paddingBottom = 0; },
          border: { display: false },
          grid: {
            drawTicks: false,
            color: '#ebebeb',
            lineWidth: ctx => (ctx.tick && ctx.tick.value % 30 === 0) ? 2 : 1.1
          },
          ticks: {
            display: showY,
            padding: 11,
            color: '#4d4d4d',
            font: tickFont,
            callback: v => (v % 30 === 0 ? String(v) : '')
          }
        }
      }
    }
  });
}

makeChart('panel1', panel1, true);
makeChart('panel2', panel2, false);
makeChart('panel3', panel3, false);
</script>
</body>
</html>
